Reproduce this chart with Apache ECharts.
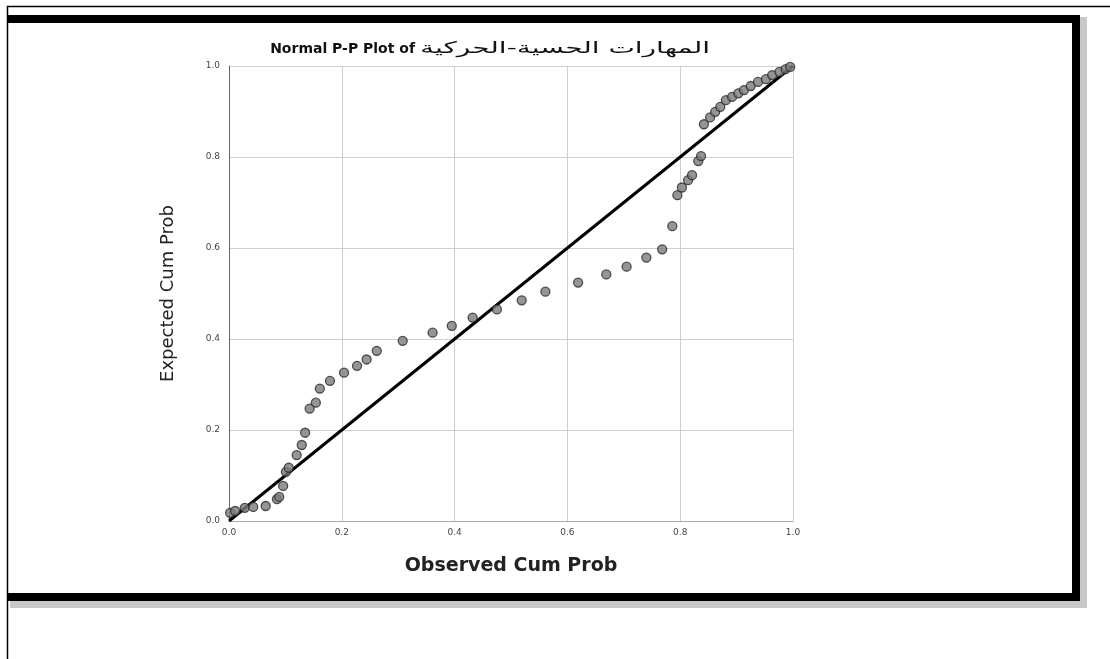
<!DOCTYPE html>
<html><head><meta charset="utf-8">
<script src="https://cdn.jsdelivr.net/npm/echarts@6/dist/echarts.min.js"></script>
<style>html,body{margin:0;padding:0;background:#fff}#c{width:1110px;height:659px}</style>
</head><body><div id="c"></div>
<script>
const titleLatin = 'Normal P-P Plot of';
const titleArabic = 'المهارات الحسية-الحركية';
const xName = 'Observed Cum Prob';
const yName = 'Expected Cum Prob';
const tickValues = [0.0, 0.2, 0.4, 0.6, 0.8, 1.0];
const observed = [0.002,0.011,0.028,0.043,0.065,0.085,0.089,0.096,0.101,0.106,0.12,0.129,0.135,0.143,0.154,0.161,0.179,0.204,0.227,0.244,0.262,0.308,0.361,0.395,0.432,0.475,0.519,0.561,0.619,0.669,0.705,0.740,0.768,0.786,0.795,0.803,0.814,0.821,0.832,0.837,0.842,0.853,0.862,0.871,0.881,0.892,0.903,0.913,0.925,0.938,0.952,0.963,0.976,0.987,0.995];
const expected = [0.018,0.022,0.029,0.031,0.033,0.048,0.053,0.077,0.108,0.117,0.145,0.167,0.194,0.247,0.26,0.291,0.308,0.326,0.341,0.355,0.374,0.396,0.414,0.429,0.447,0.465,0.485,0.504,0.524,0.542,0.559,0.579,0.597,0.648,0.716,0.733,0.749,0.76,0.791,0.802,0.872,0.887,0.899,0.91,0.925,0.932,0.94,0.947,0.956,0.965,0.971,0.98,0.987,0.993,0.998];
const refLine = [[0,0],[1,1]];

const points = observed.map((v,i)=>[v, expected[i]]);
const chart = echarts.init(document.getElementById('c'));
const axisCommon = {
  type:'value', min:0, max:1, interval:0.2,
  axisTick:{show:false},
  axisLabel:{color:'#444', fontSize:9, fontFamily:'DejaVu Sans', formatter:v=>v.toFixed(1)},
  splitLine:{show:true, lineStyle:{color:'#cfcfcf', width:1}},
};
chart.setOption({
  animation:false,
  grid:{left:229, right:317, top:66, bottom:138},
  xAxis:Object.assign({}, axisCommon, {
    name:xName, nameLocation:'middle', nameGap:36,
    nameTextStyle:{fontSize:19, fontWeight:'bold', color:'#222', fontFamily:'DejaVu Sans'},
    axisLine:{show:true, lineStyle:{color:'#aaa', width:1}},
    axisLabel:Object.assign({}, axisCommon.axisLabel, {margin:7, align:'center'})
  }),
  yAxis:Object.assign({}, axisCommon, {
    name:yName, nameLocation:'middle', nameGap:52,
    nameTextStyle:{fontSize:18, color:'#222', fontFamily:'DejaVu Sans'},
    axisLine:{show:true, lineStyle:{color:'#666', width:1}},
    axisLabel:Object.assign({}, axisCommon.axisLabel, {margin:9})
  }),
  series:[
    {type:'line', data:refLine, symbol:'none', lineStyle:{color:'#000', width:3}, z:3},
    {type:'scatter', data:points, symbol:'circle', symbolSize:9,
      itemStyle:{color:'#7a7a7a', borderColor:'#2a2a2a', borderWidth:1.3}, z:4}
  ],
  graphic:[
    {type:'rect', shape:{x:0,y:0,width:1110,height:659}, style:{fill:'#fff'}, z:-10, silent:true},
    {type:'text', x:415, y:49, style:{text:titleLatin, align:'right', verticalAlign:'middle',
      font:'bold 14px "DejaVu Sans"', fill:'#111'}},
    {type:'text', x:420, y:49, scaleX:1.75, style:{text:titleArabic, align:'left', verticalAlign:'middle',
      font:'16px "DejaVu Sans"', fill:'#111'}},
    {type:'line', shape:{x1:7,y1:6.5,x2:1110,y2:6.5}, style:{stroke:'#000', lineWidth:1.5}},
    {type:'line', shape:{x1:7.5,y1:6,x2:7.5,y2:659}, style:{stroke:'#000', lineWidth:1.5}},
    {type:'rect', shape:{x:1080,y:17,width:7,height:591}, style:{fill:'#c8c8c8'}},
    {type:'rect', shape:{x:10,y:601,width:1077,height:7}, style:{fill:'#c8c8c8'}},
    {type:'rect', shape:{x:8,y:15,width:1072,height:8}, style:{fill:'#000'}},
    {type:'rect', shape:{x:1072,y:15,width:8,height:586}, style:{fill:'#000'}},
    {type:'rect', shape:{x:8,y:593,width:1072,height:8}, style:{fill:'#000'}}
  ]
});
</script></body></html>
